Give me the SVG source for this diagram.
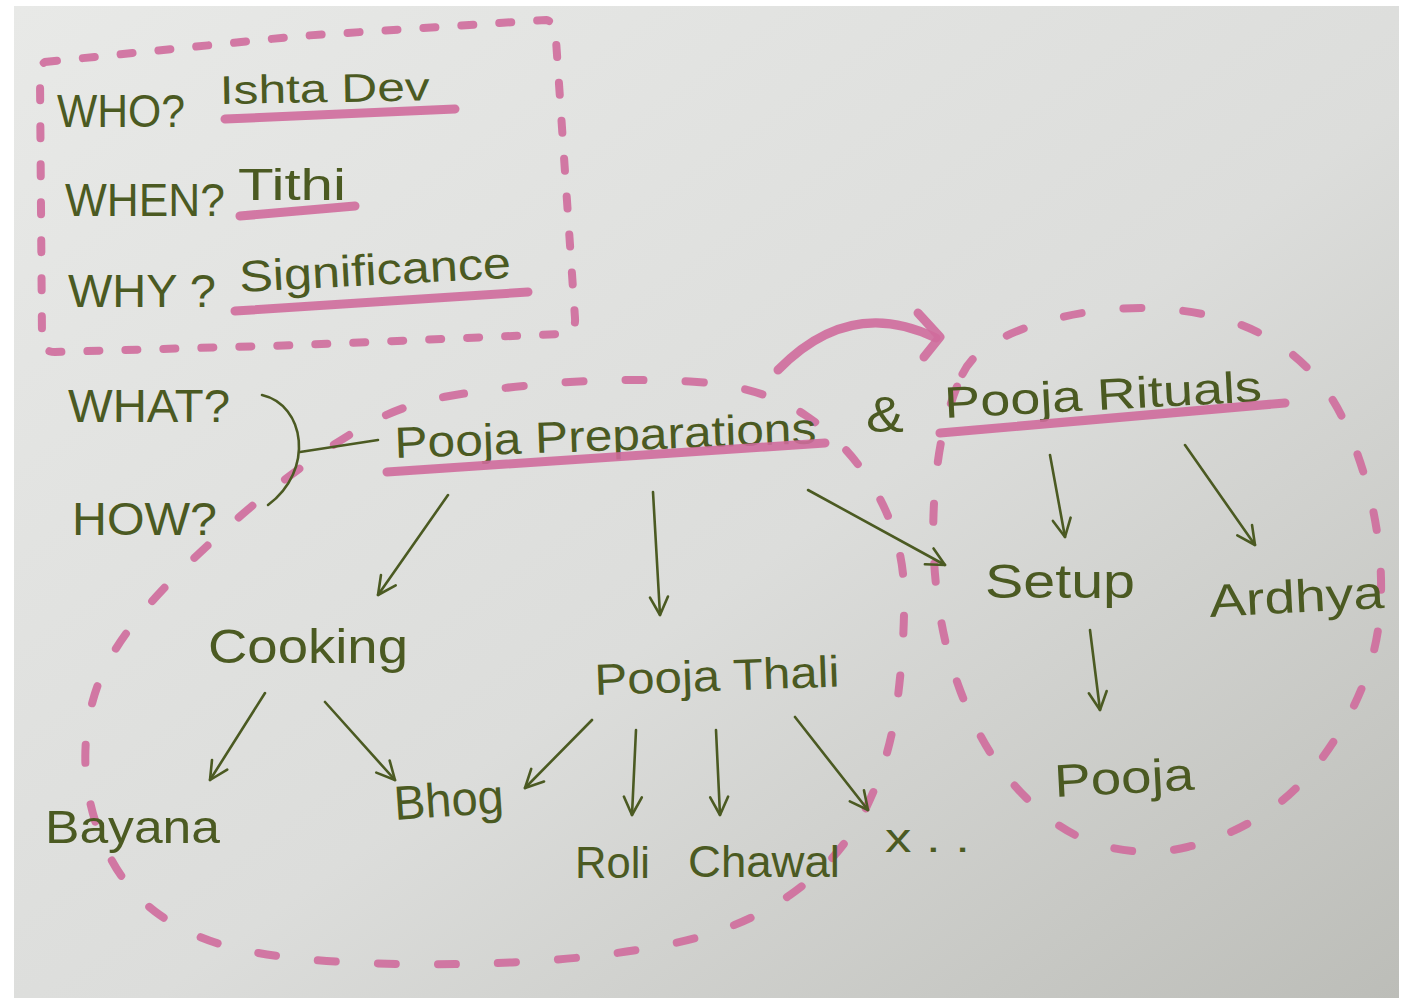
<svg xmlns="http://www.w3.org/2000/svg" width="1404" height="998" viewBox="0 0 1404 998">
<defs>
<linearGradient id="paper" x1="0" y1="0" x2="1" y2="1">
<stop offset="0" stop-color="#e8e9e7"/>
<stop offset="0.55" stop-color="#dcdddb"/>
<stop offset="1" stop-color="#bcbdb8"/>
</linearGradient>
<marker id="head" viewBox="0 0 24 24" refX="21" refY="12" markerWidth="24" markerHeight="24" markerUnits="userSpaceOnUse" orient="auto">
<path d="M3,3 L21,12 L3,21" fill="none" stroke="#4b5a22" stroke-width="2.6" stroke-linecap="round" stroke-linejoin="round"/>
</marker>
</defs>
<style>
.t{font-family:"Liberation Sans","DejaVu Sans",sans-serif;fill:#4b5a22;}
.ul{stroke:#cf6b9c;stroke-width:9;stroke-linecap:round;fill:none;opacity:0.9;}
.dash{stroke:#cf6b9c;stroke-width:8;stroke-linecap:round;fill:none;stroke-dasharray:12 26;opacity:0.9;}
.loop{stroke-dasharray:18 42;}
.arr{stroke:#4b5a22;stroke-width:2.6;fill:none;stroke-linecap:round;marker-end:url(#head);}
.ink{stroke:#4b5a22;stroke-width:2.6;fill:none;stroke-linecap:round;}
</style>
<rect x="0" y="0" width="1404" height="998" fill="#ffffff"/>
<rect x="14" y="6" width="1385" height="992" fill="url(#paper)"/>

<g id="boundaries">
<path class="dash" d="M45,62 L300,36 L546,20 Q556,22 556,40 L575,318 Q576,334 560,334 L300,345 L55,352 Q42,352 42,338 L40,80 Q40,64 45,62 Z"/>
<path class="dash loop" d="M446.5,396.5 Q493,388 556.5,383 Q620,378 690,381.5 Q760,385 805,415 Q850,445 876.5,492.5 Q903,540 904,590 Q905,640 897.5,700 Q890,760 865,810 Q840,860 790,895 Q740,930 670,944 Q600,958 520,962 Q440,966 363.5,963 Q287,960 238.5,949 Q190,938 155,911.5 Q120,885 101,837.5 Q82,790 86,740 Q90,690 115,650 Q140,610 188.5,563.5 Q237,517 278.5,484.5 Q320,452 360,428.5 Q400,405 446.5,396.5 Z"/>
<path class="dash loop" d="M962.5,374 Q975,348 1017.5,331 Q1060,314 1110,309.5 Q1160,305 1207.5,315 Q1255,325 1290,352.5 Q1325,380 1343.5,420 Q1362,460 1372,505 Q1382,550 1381,595 Q1380,640 1365,680 Q1350,720 1322.5,757.5 Q1295,795 1260,816.5 Q1225,838 1187.5,847 Q1150,856 1112.5,848 Q1075,840 1045,815 Q1015,790 995,760 Q975,730 960,690 Q945,650 938.5,605 Q932,560 933.5,515 Q935,470 942.5,435 Q950,400 962.5,374 Z"/>
</g>

<g id="connectors">
<path class="ul" d="M778,370 Q850,296 936,338"/>
<path class="ul" d="M918,313 L940,337 L924,357" stroke-linejoin="round"/>
<path class="ink" d="M262,395 C305,405 315,470 268,505"/>
<path class="ink" d="M300,452 L378,440"/>
<path class="arr" d="M448,495 L378,595"/>
<path class="arr" d="M653,492 L660,615"/>
<path class="arr" d="M808,490 L945,565"/>
<path class="arr" d="M1050,455 L1065,537"/>
<path class="arr" d="M1185,445 L1255,545"/>
<path class="arr" d="M1090,630 L1100,710"/>
<path class="arr" d="M265,693 L210,780"/>
<path class="arr" d="M325,702 L395,780"/>
<path class="arr" d="M592,720 L525,788"/>
<path class="arr" d="M636,730 L632,815"/>
<path class="arr" d="M716,730 L720,815"/>
<path class="arr" d="M795,717 L868,810"/>
</g>

<g id="who">
<text class="t" x="57" y="127" font-size="46" textLength="128" lengthAdjust="spacingAndGlyphs">WHO?</text>
<text class="t" x="220" y="104" font-size="40" textLength="210" lengthAdjust="spacingAndGlyphs" transform="rotate(-1 220 104)">Ishta Dev</text>
<path class="ul" d="M225,119 L455,109"/>
</g>
<g id="when">
<text class="t" x="65" y="216" font-size="46" textLength="160" lengthAdjust="spacingAndGlyphs">WHEN?</text>
<text class="t" x="238" y="200" font-size="44" textLength="108" lengthAdjust="spacingAndGlyphs">Tithi</text>
<path class="ul" d="M240,216 L355,206"/>
</g>
<g id="why">
<text class="t" x="68" y="307" font-size="46" textLength="148" lengthAdjust="spacingAndGlyphs">WHY ?</text>
<text class="t" x="240" y="292" font-size="44" textLength="272" lengthAdjust="spacingAndGlyphs" transform="rotate(-3 240 292)">Significance</text>
<path class="ul" d="M235,311 L528,292"/>
</g>
<g id="what">
<text class="t" x="68" y="422" font-size="46" textLength="162" lengthAdjust="spacingAndGlyphs">WHAT?</text>
</g>
<g id="how">
<text class="t" x="72" y="535" font-size="46" textLength="145" lengthAdjust="spacingAndGlyphs">HOW?</text>
</g>
<g id="pooja-preparations">
<text class="t" x="395" y="458" font-size="44" textLength="422" lengthAdjust="spacingAndGlyphs" transform="rotate(-2 395 458)">Pooja Preparations</text>
<path class="ul" d="M387,472 L825,443"/>
</g>
<g id="and">
<text class="t" x="866" y="432" font-size="50" textLength="38" lengthAdjust="spacingAndGlyphs">&amp;</text>
</g>
<g id="pooja-rituals">
<text class="t" x="945" y="418" font-size="44" textLength="318" lengthAdjust="spacingAndGlyphs" transform="rotate(-3 945 418)">Pooja Rituals</text>
<path class="ul" d="M940,433 L1285,403"/>
</g>
<g id="cooking">
<text class="t" x="208" y="663" font-size="48" textLength="200" lengthAdjust="spacingAndGlyphs">Cooking</text>
</g>
<g id="pooja-thali">
<text class="t" x="595" y="695" font-size="44" textLength="245" lengthAdjust="spacingAndGlyphs" transform="rotate(-2 595 695)">Pooja Thali</text>
</g>
<g id="setup">
<text class="t" x="985" y="598" font-size="48" textLength="150" lengthAdjust="spacingAndGlyphs">Setup</text>
</g>
<g id="ardhya">
<text class="t" x="1210" y="617" font-size="46" textLength="175" lengthAdjust="spacingAndGlyphs" transform="rotate(-3 1210 617)">Ardhya</text>
</g>
<g id="pooja">
<text class="t" x="1055" y="797" font-size="46" textLength="140" lengthAdjust="spacingAndGlyphs" transform="rotate(-3 1055 797)">Pooja</text>
</g>
<g id="bayana">
<text class="t" x="45" y="843" font-size="46" textLength="175" lengthAdjust="spacingAndGlyphs">Bayana</text>
</g>
<g id="bhog">
<text class="t" x="395" y="820" font-size="48" textLength="110" lengthAdjust="spacingAndGlyphs" transform="rotate(-4 395 820)">Bhog</text>
</g>
<g id="roli">
<text class="t" x="575" y="878" font-size="44" textLength="75" lengthAdjust="spacingAndGlyphs">Roli</text>
</g>
<g id="chawal">
<text class="t" x="688" y="877" font-size="44" textLength="152" lengthAdjust="spacingAndGlyphs">Chawal</text>
</g>
<g id="etc">
<text class="t" x="885" y="852" font-size="40" textLength="85" lengthAdjust="spacingAndGlyphs">x . .</text>
</g>
</svg>
